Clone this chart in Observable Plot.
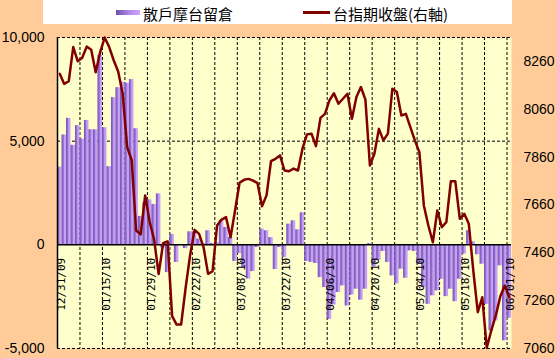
<!DOCTYPE html>
<html><head><meta charset="utf-8">
<script src="https://cdn.jsdelivr.net/npm/d3@7"></script>
<script src="https://cdn.jsdelivr.net/npm/@observablehq/plot@0.6"></script>
<style>
html,body{margin:0;padding:0;background:#FFCC99;width:556px;height:358px;overflow:hidden}
#legend{position:relative;width:556px;height:25px}
#legend .box{position:absolute;left:43px;top:0;width:469px;height:24px;background:#fff}
.sw1{position:absolute;left:116px;top:10px;width:24px;height:5px;background:linear-gradient(to right,#6f50a8,#b68cf0 60%,#cda6fb)}
.sw2{position:absolute;left:303px;top:11px;width:27px;height:3px;background:#800000}
.t{position:absolute;top:3px;font-family:"Noto Sans CJK TC",sans-serif;font-size:15px;line-height:22px;color:#000;white-space:nowrap}
</style></head><body>
<div id="legend"><div class="box"></div><div class="sw1"></div><span class="t" style="left:143px">散戶摩台留倉</span><div class="sw2"></div><span class="t" style="left:333px">台指期收盤(右軸)</span></div>
<div id="chart"></div>
<script>
const dates = ["12/31/09",
"01/04/10","01/05/10","01/06/10","01/07/10","01/08/10","01/11/10","01/12/10","01/13/10","01/14/10","01/15/10",
"01/18/10","01/19/10","01/20/10","01/21/10","01/22/10","01/25/10","01/26/10","01/27/10","01/28/10","01/29/10",
"02/01/10","02/02/10","02/03/10","02/04/10","02/05/10","02/06/10","02/08/10","02/09/10","02/10/10","02/22/10",
"02/23/10","02/24/10","02/25/10","02/26/10","03/01/10","03/02/10","03/03/10","03/04/10","03/05/10","03/08/10",
"03/09/10","03/10/10","03/11/10","03/12/10","03/15/10","03/16/10","03/17/10","03/18/10","03/19/10","03/22/10",
"03/23/10","03/24/10","03/25/10","03/26/10","03/29/10","03/30/10","03/31/10","04/01/10","04/02/10","04/06/10",
"04/07/10","04/08/10","04/09/10","04/12/10","04/13/10","04/14/10","04/15/10","04/16/10","04/19/10","04/20/10",
"04/21/10","04/22/10","04/23/10","04/26/10","04/27/10","04/28/10","04/29/10","04/30/10","05/03/10","05/04/10",
"05/05/10","05/06/10","05/07/10","05/10/10","05/11/10","05/12/10","05/13/10","05/14/10","05/17/10","05/18/10",
"05/19/10","05/20/10","05/21/10","05/24/10","05/25/10","05/26/10","05/27/10","05/28/10","05/31/10","06/01/10"];

const retailOI = [3750,
5300,6100,4800,5750,5100,6000,5550,5550,9150,5650,
3770,7100,7580,7840,7790,7970,5600,1370,2030,2170,
1950,2460,-150,-1340,500,-850,0,-180,630,630,
280,70,680,70,110,1180,840,350,-800,-420,
-1100,-1650,-1290,-130,760,680,350,-1190,-130,-610,
1000,1160,725,1545,-805,-850,-900,-1580,-2060,-3600,
-2900,-2300,-1980,-2950,-2420,-2140,-2670,-2140,60,-1060,
-740,-320,-850,-1500,-1880,-1175,-1610,-290,-320,-935,
-2060,-2870,-2460,-2220,-1660,-2500,-2140,-2740,-1660,-450,
680,145,-480,-935,-2870,-4150,-3670,-1015,-4630,-3540];

const taiexFut = [8208,
8166,8177,8320,8261,8275,8322,8309,8215,8299,8360,
8320,8265,8218,8125,7902,7848,7553,7537,7700,7590,
7515,7371,7500,7508,7195,7160,7160,7313,7450,7556,
7539,7483,7372,7383,7574,7599,7609,7525,7637,7753,
7765,7769,7762,7751,7655,7700,7843,7853,7867,7804,
7801,7812,7804,7895,7955,7958,7906,8024,8041,8097,
8127,8083,8104,8125,8020,8111,8153,8100,7825,7874,
7978,7930,7958,8146,8132,8034,8041,7985,7930,7881,
7658,7574,7504,7637,7567,7588,7759,7759,7602,7623,
7581,7386,7212,7274,7063,7135,7198,7277,7323,7274];

const leftTicks = [-5000, 0, 5000, 10000];
const rightTicks = [7060, 7260, 7460, 7660, 7860, 8060, 8260];
const L0 = -5000, L1 = 10000, R0 = 7060, R1 = 8360;
const toLeft = v => L0 + (v - R0) * (L1 - L0) / (R1 - R0);
const fromLeft = y => R0 + (y - L0) * (R1 - R0) / (L1 - L0);

const rows = dates.map((d, i) => ({i, date: d, oi: retailOI[i], fut: taiexFut[i]}));
const labelRows = rows.filter(r => r.i % 10 === 0);
const gridX = rows.filter(r => r.i > 0 && r.i % 5 === 0).map(r => r.i);

const plot = Plot.plot({
  width: 556, height: 333,
  marginLeft: 57, marginRight: 45, marginTop: 12, marginBottom: 10,
  x: {type: "linear", domain: [0, dates.length], axis: null},
  y: {domain: [L0, L1], axis: null},
  style: {background: "#FFCC99", color: "#000", fontFamily: "'Liberation Sans', Arial, sans-serif"},
  marks: [
    Plot.frame({fill: "#FFFFCC", stroke: null}),
    Plot.ruleY([5000, 10000, -5000], {stroke: "#000", strokeWidth: 1, strokeDasharray: "3,2"}),
    Plot.ruleX(gridX, {stroke: "#000", strokeWidth: 1, strokeDasharray: "3,2"}),
    Plot.rect(rows, {x1: d => d.i, x2: d => d.i + 1, y1: d => 0, y2: "oi", fill: "url(#barGrad)"}),
    Plot.ruleY([0], {stroke: "#000", strokeWidth: 1.5}),
    Plot.ruleX([0], {stroke: "#000", strokeWidth: 1.5}),
    Plot.text(labelRows, {x: d => d.i + 0.5, y: d => 0, text: "date", rotate: -90, textAnchor: "end", dy: 13, dx: 1.5, fontFamily: "'DejaVu Sans Mono', monospace", fontSize: 11, fill: "#000"}),
    Plot.line(rows, {x: d => d.i + 0.5, y: d => toLeft(d.fut), stroke: "#800000", strokeWidth: 2.5}),
    Plot.axisY(leftTicks, {anchor: "left", label: null, tickSize: 0, tickPadding: 13, fontSize: 14, tickFormat: d => d.toLocaleString("en-US")}),
    Plot.axisY(rightTicks.map(toLeft), {anchor: "right", label: null, tickSize: 0, tickPadding: 12, fontSize: 14, tickFormat: d => String(Math.round(fromLeft(d)))})
  ]
});

const defs = d3.create("svg:defs");
const grad = defs.append("linearGradient").attr("id", "barGrad").attr("x1", "0").attr("x2", "1").attr("y1", "0").attr("y2", "0");
grad.append("stop").attr("offset", "0").attr("stop-color", "#7454b0");
grad.append("stop").attr("offset", "0.45").attr("stop-color", "#9a74d8");
grad.append("stop").attr("offset", "0.6").attr("stop-color", "#c7a0f6");
grad.append("stop").attr("offset", "1").attr("stop-color", "#c7a0f6");
plot.insertBefore(defs.node(), plot.firstChild);
document.getElementById("chart").appendChild(plot);
</script>
</body></html>
